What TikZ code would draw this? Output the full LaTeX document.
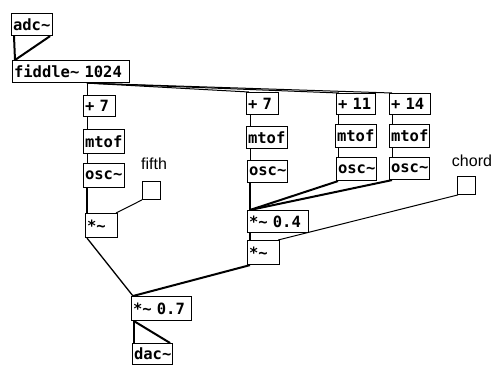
\documentclass[tikz,border=0pt]{standalone}
\usepackage{fontspec}
\usetikzlibrary{calc}
\newfontfamily\pdmono{DejaVu Sans Mono}[WordSpace={1,0,0}]
\newfontfamily\pdsans{Liberation Sans}
\newcommand{\pdfnt}{\pdmono\bfseries\fontsize{15.5}{17}\selectfont}
\newcommand{\tld}{\textasciitilde}
\tikzset{
  pd/.style 2 args={draw, line width=1.1pt, font=\pdfnt, anchor=north west,
    inner xsep=1.5pt, inner ysep=0pt, align=left, text width=#1, minimum height=#2},
  tgl/.style={draw, line width=0.9pt, minimum size=18pt, inner sep=0pt, anchor=north west},
  lbl/.style={font=\pdsans\fontsize{16}{18}\selectfont, inner sep=0pt},
  sig/.style={line width=2pt},
  ctl/.style={line width=1pt},
}
\begin{document}
\begin{tikzpicture}[x=1pt,y=-1pt]
\useasboundingbox (0,0) rectangle (495,365);
\fill[white] (0,0) rectangle (495,365);
% objects
\node[pd={38pt}{22pt}] (adc) at (11,13) {\mbox{adc\tld}};
\node[pd={114pt}{22pt}] (fid) at (12,60) {\mbox{fiddle\tld\ 1024}};
\node[pd={29pt}{21pt}] (L7) at (83,95) {\mbox{+ 7}};
\node[pd={38pt}{24pt}] (Lm) at (83,129) {\mbox{mtof}};
\node[pd={38pt}{24pt}] (Lo) at (83,163) {\mbox{osc\tld}};
\node[pd={29pt}{24pt}] (Lmul) at (85,213) {\mbox{*\tld}};
\node[lbl] (fifthL) at (154,164) {fifth};
\node[tgl] (fifthT) at (142,181) {};
\node[pd={29pt}{22pt}] (R7) at (246,92) {\mbox{+ 7}};
\node[pd={38pt}{22pt}] (Rm) at (246,126) {\mbox{mtof}};
\node[pd={37pt}{22pt}] (Ro) at (247,160) {\mbox{osc\tld}};
\node[pd={36pt}{21pt}] (A11) at (336,93) {\mbox{+ 11}};
\node[pd={38pt}{23pt}] (M11) at (335,124) {\mbox{mtof}};
\node[pd={37pt}{23pt}] (O11) at (336,157) {\mbox{osc\tld}};
\node[pd={38pt}{21pt}] (A14) at (389,93) {\mbox{+ 14}};
\node[pd={37pt}{23pt}] (M14) at (389,124) {\mbox{mtof}};
\node[pd={37pt}{22pt}] (O14) at (389,157) {\mbox{osc\tld}};
\node[lbl] (chordL) at (472,161) {chord};
\node[tgl] (chordT) at (457,176) {};
\node[pd={58pt}{22pt}] (m04) at (247,210) {\mbox{*\tld\ 0.4}};
\node[pd={29pt}{24pt}] (Rmul) at (247,240) {\mbox{*\tld}};
\node[pd={57pt}{24pt}] (m07) at (131,296) {\mbox{*\tld\ 0.7}};
\node[pd={37pt}{21pt}] (dac) at (132,343) {\mbox{dac\tld}};
% connections
\coordinate (fo) at ($(fid.south west)+(75,0)$);
\draw[sig] ($(adc.south west)+(3,0)$) -- ($(fid.north west)+(3,0)$);
\draw[sig] ($(adc.south east)+(-3,0)$) -- ($(fid.north west)+(3,0)$);
\draw[ctl] (fo) -- ($(L7.north west)+(4,0)$);
\draw[ctl] (fo) -- ($(R7.north west)+(3,0)$);
\draw[ctl] (fo) -- ($(A11.north west)+(3,0)$);
\draw[ctl] (fo) -- ($(A14.north west)+(3,0)$);
\draw[ctl] ($(L7.south west)+(4,0)$) -- ($(Lm.north west)+(4,0)$);
\draw[ctl] ($(Lm.south west)+(4,0)$) -- ($(Lo.north west)+(4,0)$);
\draw[sig] ($(Lo.south west)+(4,0)$) -- ($(Lmul.north west)+(2,0)$);
\draw[ctl] (fifthT.south west) -- ($(Lmul.north east)+(-2,0)$);
\draw[ctl] ($(R7.south west)+(4,0)$) -- ($(Rm.north west)+(4,0)$);
\draw[ctl] ($(Rm.south west)+(4,0)$) -- ($(Ro.north west)+(3,0)$);
\draw[ctl] ($(A11.south west)+(2,0)$) -- ($(M11.north west)+(3,0)$);
\draw[ctl] ($(M11.south west)+(3,0)$) -- ($(O11.north west)+(2,0)$);
\draw[ctl] ($(A14.south west)+(3,0)$) -- ($(M14.north west)+(3,0)$);
\draw[ctl] ($(M14.south west)+(3,0)$) -- ($(O14.north west)+(3,0)$);
\draw[sig] ($(Ro.south west)+(3,0)$) -- ($(m04.north west)+(3,0)$);
\draw[sig] ($(O11.south west)+(2,0)$) -- ($(m04.north west)+(3,0)$);
\draw[sig] ($(O14.south west)+(3,0)$) -- ($(m04.north west)+(3,0)$);
\draw[sig] ($(m04.south west)+(3,0)$) -- ($(Rmul.north west)+(3,0)$);
\draw[ctl] ($(chordT.south west)+(1,0)$) -- ($(Rmul.north east)+(-2,0)$);
\draw[line width=1.3pt] ($(Lmul.south west)+(2,0)$) -- ($(m07.north west)+(2,0)$);
\draw[sig] ($(Rmul.south west)+(3,0)$) -- ($(m07.north west)+(2,0)$);
\draw[sig] ($(m07.south west)+(3,0)$) -- ($(dac.north west)+(2,0)$);
\draw[sig] ($(m07.south west)+(3,0)$) -- ($(dac.north east)+(-3,0)$);
\end{tikzpicture}
\end{document}
